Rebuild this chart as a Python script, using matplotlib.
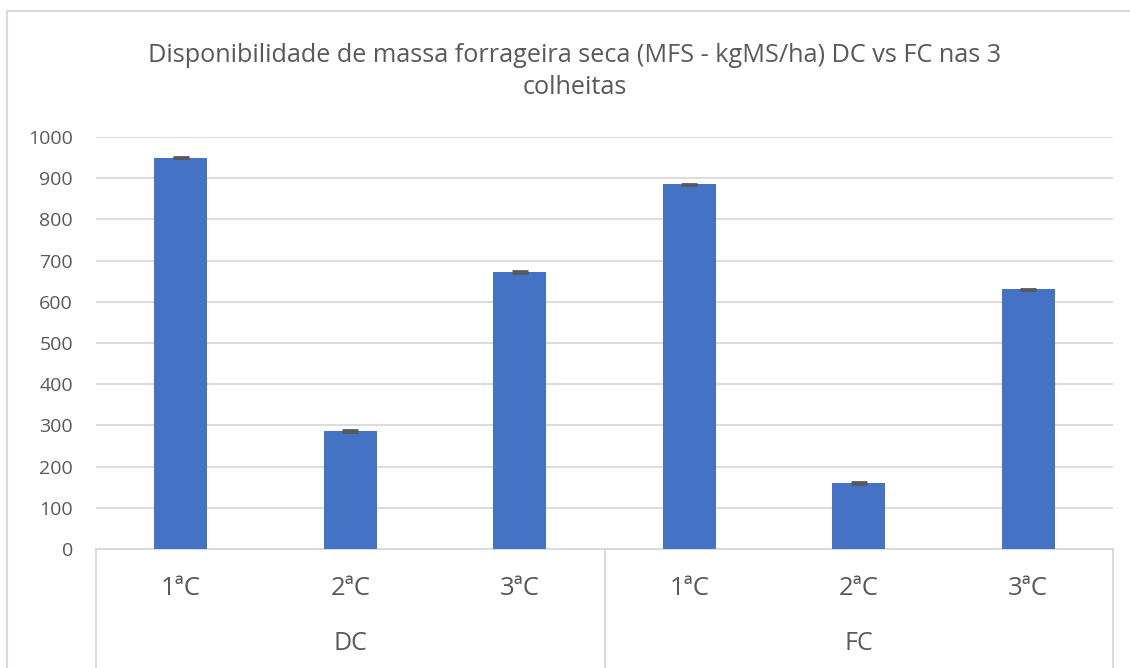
import matplotlib
matplotlib.use("Agg")
import matplotlib.pyplot as plt
from matplotlib.patches import Rectangle
import numpy as np

# data
groups = ["DC", "FC"]
cuts = ["1ªC", "2ªC", "3ªC"]
mfs = [950, 286, 672, 885, 160, 630]
err = [2, 2, 2, 2, 2, 2]

txt = "#595959"
grid = "#d9d9d9"
plt.rcParams['font.family'] = ['Open Sans', 'DejaVu Sans']

fig = plt.figure(figsize=(11.3, 6.68), dpi=100)
ax = fig.add_axes([96/1130, 1-549/668, (1113-96)/1130, (549-137)/668])

x = np.arange(len(mfs))
ax.bar(x, mfs, width=0.31, color="#4472C4", zorder=3,
       yerr=err, error_kw=dict(ecolor=txt, capsize=6, capthick=2, elinewidth=1))

ax.set_xlim(-0.5, len(mfs) - 0.5)
ax.set_ylim(0, 1000)
ax.set_yticks(np.arange(0, 1001, 100))
ax.tick_params(axis="y", length=0, pad=16.5, labelsize=14, labelcolor=txt)
ax.tick_params(axis="x", length=0, labelbottom=False)
ax.grid(axis="y", color=grid, linewidth=1.3, zorder=0)
for s in ["top", "right", "left"]:
    ax.spines[s].set_visible(False)
ax.spines["bottom"].set_color(grid)
ax.spines["bottom"].set_linewidth(1.3)

# two level category axis
trans = ax.get_xaxis_transform()
for i, xi in enumerate(x):
    ax.text(xi, -0.095, cuts[i % 3], transform=trans, ha="center", va="center",
            fontsize=18.5, color=txt)
for g, name in enumerate(groups):
    ax.text(g * 3 + 1, -0.23, name, transform=trans, ha="center", va="center",
            fontsize=18, color=txt)
for xb in [-0.5, 2.5, 5.5]:
    ax.plot([xb, xb], [0, -0.3], transform=trans, color=grid, lw=1.3, clip_on=False)

fig.text(575/1130, 1-55/668, "Disponibilidade de massa forrageira seca (MFS - kgMS/ha) DC vs FC nas 3",
         ha="center", va="center", fontsize=18.2, color=txt)
fig.text(575/1130, 1-88/668, "colheitas", ha="center", va="center", fontsize=18.2, color=txt)

# chart border, cut off at right and bottom like the original
fig.patches.append(Rectangle((7/1130, -0.1), 1.2, 1.1 - 11/668, transform=fig.transFigure,
                             fill=False, edgecolor=grid, lw=1.5))

fig.savefig("out.png", dpi=100)
